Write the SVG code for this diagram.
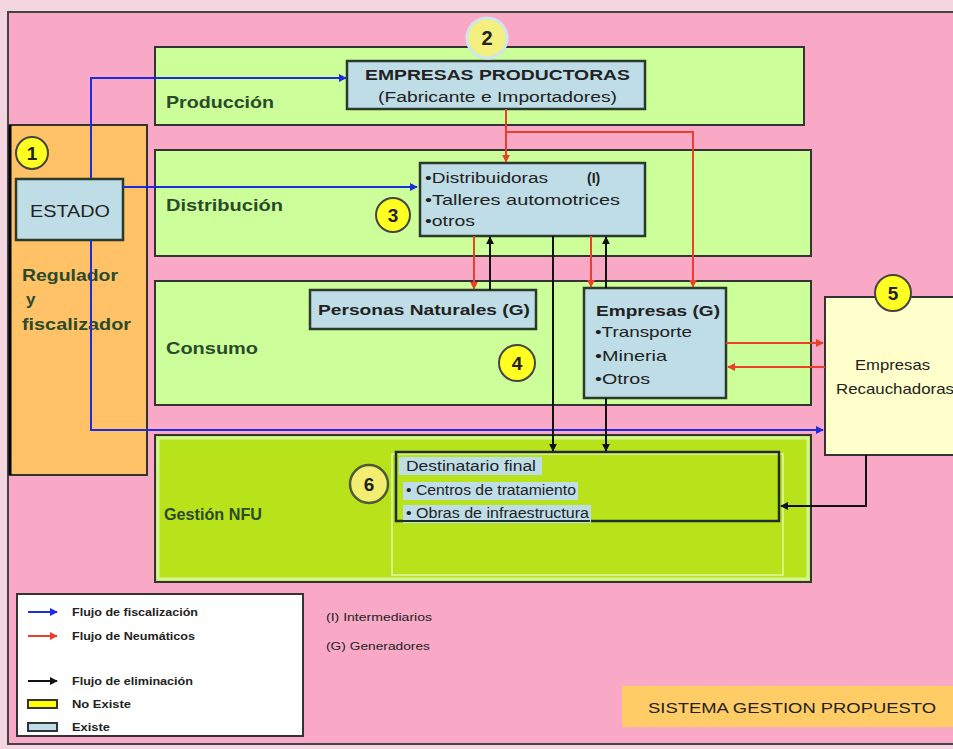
<svg xmlns="http://www.w3.org/2000/svg" width="953" height="749" viewBox="0 0 953 749">
<style>
text{font-family:"Liberation Sans",Arial,sans-serif;fill:#222}
.band{fill:#CCFF99;stroke:#333;stroke-width:2}
.box{fill:#BFDDE6;stroke:#2b3a2b;stroke-width:2.5}
.lbl{font-size:17px;font-weight:bold;fill:#2a4a2a}
.num{font-size:19px;font-weight:bold;text-anchor:middle;fill:#222}
.circ{fill:#FFFF22;stroke:#444;stroke-width:2}
.blue{stroke:#1A2BE0;stroke-width:2;fill:none}
.red{stroke:#E8402A;stroke-width:2;fill:none}
.blk{stroke:#111;stroke-width:2;fill:none}
.t13{font-size:13px}
.t14{font-size:14px}
.t15{font-size:15px}
.leg{font-size:11px;font-weight:bold}
</style>
<defs>
<marker id="ab" viewBox="0 0 10 10" refX="9" refY="5" markerWidth="4" markerHeight="4" orient="auto"><path d="M0,0L10,5L0,10z" fill="#1A2BE0"/></marker>
<marker id="ar" viewBox="0 0 10 10" refX="9" refY="5" markerWidth="4" markerHeight="4" orient="auto"><path d="M0,0L10,5L0,10z" fill="#E8402A"/></marker>
<marker id="ak" viewBox="0 0 10 10" refX="9" refY="5" markerWidth="4" markerHeight="4" orient="auto"><path d="M0,0L10,5L0,10z" fill="#111"/></marker>
</defs>
<rect x="0" y="0" width="953" height="749" fill="#F4D6E0"/>
<rect x="8" y="12" width="950" height="732" fill="#F9A9C6" stroke="#444" stroke-width="2"/>

<g id="estado-panel">
<rect x="10" y="125" width="137" height="350" fill="#FFC266" stroke="#333" stroke-width="2"/>
<line x1="10" y1="125" x2="10" y2="475" stroke="#000" stroke-width="3"/>
<text x="22" y="281" class="lbl" fill="#3a3a1a" textLength="96" lengthAdjust="spacingAndGlyphs">Regulador</text>
<text x="26" y="305" class="lbl">y</text>
<text x="22" y="330" class="lbl" textLength="109" lengthAdjust="spacingAndGlyphs">fiscalizador</text>
<circle cx="32" cy="153" r="16" class="circ"/>
<text x="32" y="160" class="num">1</text>
</g>
<g id="estado">
<rect x="16" y="179" width="107" height="61" class="box"/>
<text x="30" y="217" style="font-size:17px" textLength="80" lengthAdjust="spacingAndGlyphs">ESTADO</text>
</g>

<g id="produccion">
<rect x="155" y="47" width="649" height="78" class="band"/>
<text x="166" y="108" class="lbl" textLength="108" lengthAdjust="spacingAndGlyphs">Producción</text>
</g>
<g id="distribucion">
<rect x="155" y="150" width="656" height="106" class="band"/>
<text x="166" y="211" class="lbl" textLength="117" lengthAdjust="spacingAndGlyphs">Distribución</text>
</g>
<g id="consumo">
<rect x="155" y="281" width="656" height="124" class="band"/>
<text x="166" y="354" class="lbl" textLength="92" lengthAdjust="spacingAndGlyphs">Consumo</text>
</g>
<g id="gestion">
<rect x="155" y="435" width="656" height="147" fill="#B8E31A" stroke="#333" stroke-width="2"/>
<rect x="158" y="438" width="650" height="141" fill="none" stroke="#D2F59A" stroke-width="3"/>
<rect x="392" y="454" width="391" height="121" fill="none" stroke="#E3F7A8" stroke-width="1.5"/>
<text x="164" y="520" class="lbl" textLength="98" lengthAdjust="spacingAndGlyphs">Gestión NFU</text>
</g>

<g id="empresas-productoras">
<rect x="347" y="61" width="298" height="48" class="box"/>
<text x="365" y="80" class="t14" font-weight="bold" textLength="265" lengthAdjust="spacingAndGlyphs">EMPRESAS PRODUCTORAS</text>
<text x="378" y="102" class="t14" textLength="239" lengthAdjust="spacingAndGlyphs">(Fabricante e Importadores)</text>
<circle cx="487" cy="38" r="20" fill="#F4F080" stroke="#CFE6EC" stroke-width="3"/>
<text x="487" y="45" class="num" style="font-size:20px">2</text>
</g>

<g id="distribuidoras">
<rect x="420" y="163" width="225" height="73" class="box"/>
<text x="425" y="183" class="t14" textLength="123" lengthAdjust="spacingAndGlyphs">•Distribuidoras</text>
<text x="587" y="183" class="t14" font-weight="bold">(I)</text>
<text x="425" y="205" class="t15" textLength="195" lengthAdjust="spacingAndGlyphs">•Talleres automotrices</text>
<text x="425" y="226" class="t14" textLength="50" lengthAdjust="spacingAndGlyphs">•otros</text>
<circle cx="393" cy="215" r="17" class="circ"/>
<text x="393" y="222" class="num">3</text>
</g>

<g id="personas-naturales">
<rect x="310" y="290" width="226" height="39" class="box"/>
<text x="318" y="315" class="t15" font-weight="bold" fill="#1a2a3a" textLength="212" lengthAdjust="spacingAndGlyphs">Personas Naturales (G)</text>
<circle cx="517" cy="363" r="18" class="circ"/>
<text x="517" y="370" class="num">4</text>
</g>

<g id="empresas-g">
<rect x="584" y="288" width="142" height="110" class="box"/>
<text x="596" y="316" class="t15" font-weight="bold" textLength="124" lengthAdjust="spacingAndGlyphs">Empresas (G)</text>
<text x="595" y="337" class="t15" textLength="97" lengthAdjust="spacingAndGlyphs">•Transporte</text>
<text x="595" y="361" class="t15" textLength="72" lengthAdjust="spacingAndGlyphs">•Mineria</text>
<text x="595" y="384" class="t15" textLength="55" lengthAdjust="spacingAndGlyphs">•Otros</text>
</g>

<g id="recauchadoras">
<rect x="825" y="297" width="135" height="158" fill="#FFFFCC" stroke="#333" stroke-width="2"/>
<text x="855" y="370" class="t15" textLength="75" lengthAdjust="spacingAndGlyphs">Empresas</text>
<text x="836" y="394" class="t15" textLength="118" lengthAdjust="spacingAndGlyphs">Recauchadoras</text>
<circle cx="893" cy="293" r="18" class="circ"/>
<text x="893" y="300" class="num">5</text>
</g>

<g id="destinatario">
<rect x="396" y="452" width="383" height="69" fill="none" stroke="#1f2f2f" stroke-width="2.5"/>
<rect x="399" y="457" width="143" height="18" fill="#BFDDE6"/>
<rect x="403" y="482" width="175" height="18" fill="#BFDDE6"/>
<rect x="403" y="505" width="188" height="18" fill="#BFDDE6"/>
<line x1="396" y1="521" x2="590" y2="521" stroke="#1f2f2f" stroke-width="2"/>
<text x="406" y="471" class="t14" fill="#1a2540" textLength="130" lengthAdjust="spacingAndGlyphs">Destinatario final</text>
<text x="406" y="495" class="t14" fill="#1a2a60" textLength="170" lengthAdjust="spacingAndGlyphs">• Centros de tratamiento</text>
<text x="406" y="518" class="t14" fill="#1a2a60" textLength="183" lengthAdjust="spacingAndGlyphs">• Obras de infraestructura</text>
<circle cx="369" cy="484" r="19" fill="#F3EE70" stroke="#4a5a3a" stroke-width="2.5"/>
<text x="369" y="491" class="num">6</text>
</g>

<g id="connectors">
<polyline points="91,178 91,78 346,78" class="blue" marker-end="url(#ab)"/>
<polyline points="123,187 417,187" class="blue" marker-end="url(#ab)"/>
<polyline points="91,240 91,430 823,430" class="blue" marker-end="url(#ab)"/>
<polyline points="506,109 506,162" class="red" marker-end="url(#ar)"/>
<polyline points="506,132 693,132 693,287" class="red" marker-end="url(#ar)"/>
<polyline points="474,236 474,289" class="red" marker-end="url(#ar)"/>
<polyline points="591,236 591,287" class="red" marker-end="url(#ar)"/>
<polyline points="490,290 490,237" class="blk" marker-end="url(#ak)"/>
<polyline points="606,288 606,237" class="blk" marker-end="url(#ak)"/>
<polyline points="553,236 553,451" class="blk" marker-end="url(#ak)"/>
<polyline points="606,398 606,451" class="blk" marker-end="url(#ak)"/>
<polyline points="726,343 823,343" class="red" marker-end="url(#ar)"/>
<polyline points="825,367 728,367" class="red" marker-end="url(#ar)"/>
<polyline points="866,455 866,506 781,506" class="blk" marker-end="url(#ak)"/>
</g>

<g id="legend">
<rect x="17" y="594" width="286" height="142" fill="#FFFFFF" stroke="#333" stroke-width="2"/>
<line x1="28" y1="612" x2="57" y2="612" class="blue" stroke-width="2.5" marker-end="url(#ab)"/>
<text x="72" y="616" class="leg" textLength="126" lengthAdjust="spacingAndGlyphs">Flujo de fiscalización</text>
<line x1="28" y1="636" x2="57" y2="636" class="red" stroke-width="2.5" marker-end="url(#ar)"/>
<text x="72" y="640" class="leg" textLength="123" lengthAdjust="spacingAndGlyphs">Flujo de Neumáticos</text>
<line x1="28" y1="681" x2="57" y2="681" class="blk" stroke-width="2.5" marker-end="url(#ak)"/>
<text x="72" y="685" class="leg" textLength="121" lengthAdjust="spacingAndGlyphs">Flujo de eliminación</text>
<rect x="28" y="700" width="29" height="8" fill="#FFFF00" stroke="#333" stroke-width="2"/>
<text x="72" y="708" class="leg" textLength="59" lengthAdjust="spacingAndGlyphs">No Existe</text>
<rect x="28" y="723" width="29" height="8" fill="#BFDDE6" stroke="#333" stroke-width="2"/>
<text x="72" y="731" class="leg" textLength="38" lengthAdjust="spacingAndGlyphs">Existe</text>
</g>
<g id="notes">
<text x="326" y="621" style="font-size:11px" textLength="106" lengthAdjust="spacingAndGlyphs">(I) Intermediarios</text>
<text x="326" y="650" style="font-size:11px" textLength="104" lengthAdjust="spacingAndGlyphs">(G) Generadores</text>
</g>
<g id="title">
<rect x="622" y="686" width="331" height="41" fill="#FFCC66"/>
<text x="648" y="713" class="t15" fill="#3a3010" textLength="288" lengthAdjust="spacingAndGlyphs">SISTEMA GESTION PROPUESTO</text>
</g>
</svg>
